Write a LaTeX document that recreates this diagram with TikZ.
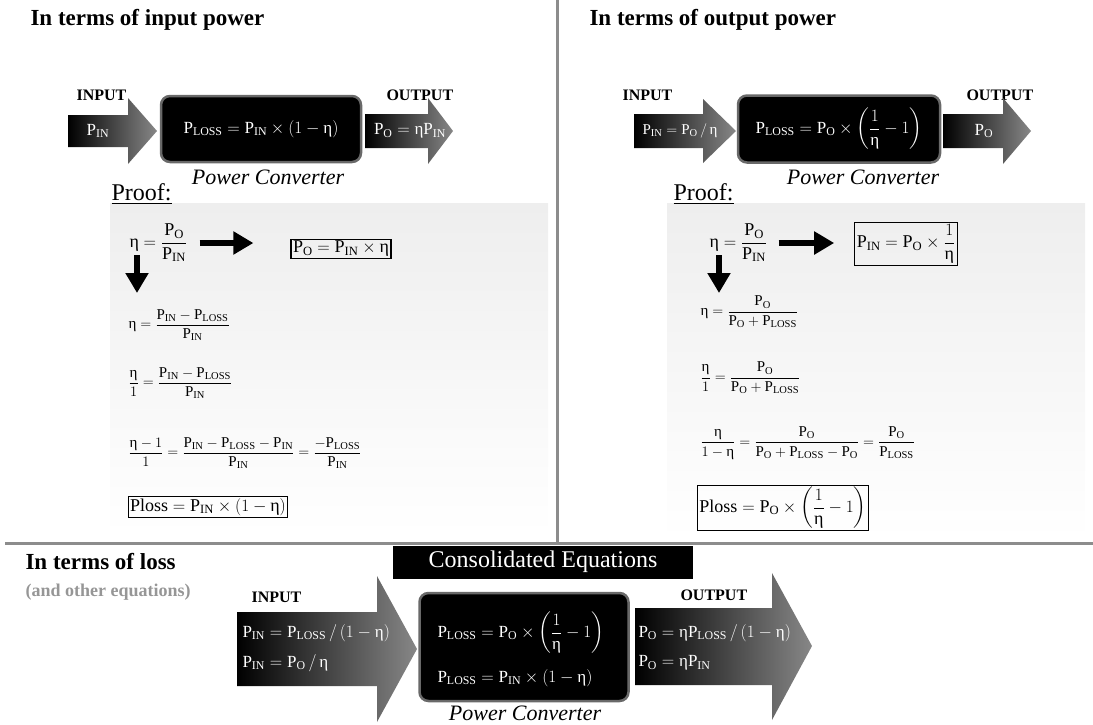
\documentclass[tikz,border=0pt]{standalone}
\usepackage{amsmath}
\usepackage{fontspec}
\setmainfont{Liberation Serif}
\usepackage{tikz}
\usetikzlibrary{arrows.meta, positioning}
\definecolor{mygray}{RGB}{140,140,140}
\definecolor{myedge}{RGB}{105,105,105}
\definecolor{myfade}{RGB}{135,135,135}
\definecolor{mynote}{RGB}{150,150,150}
\definecolor{mypaper}{RGB}{238,238,238}
\newcommand{\eff}{\text{η}}
\newcommand{\Pin}{\mathrm{P}_{\mathrm{IN}}}
\newcommand{\Po}{\mathrm{P}_{\mathrm{O}}}
\newcommand{\Ploss}{\mathrm{P}_{\mathrm{LOSS}}}
\tikzset{
  heading/.style={anchor=base west,font=\fontsize{23}{27}\selectfont\bfseries},
  subheading/.style={anchor=base west,font=\fontsize{18}{21}\selectfont\bfseries,color=mynote},
  portlabel/.style={anchor=base west,font=\fontsize{16}{19}\selectfont\bfseries},
  convbox/.style={rectangle,draw=myedge,fill=black,line width=2.5pt,rounded corners=9pt,
    text=white,font=\fontsize{17}{20}\selectfont},
  banner/.style={rectangle,fill=black,text=white,minimum width=300pt,minimum height=33pt,
    font=\fontsize{24}{28}\selectfont},
  caption/.style={anchor=base,font=\fontsize{22}{26}\selectfont\itshape},
  prooflabel/.style={anchor=base west,font=\fontsize{24}{28}\selectfont},
  wtext/.style={text=white,font=\fontsize{17}{20}\selectfont},
  eqbig/.style={anchor=west,font=\fontsize{18}{22}\selectfont},
  eqsmall/.style={anchor=west,font=\fontsize{15}{18}\selectfont},
  result/.style={draw=black,line width=1.2pt,inner sep=2pt,font=\fontsize{18}{22}\selectfont},
  proofarrow/.style={-{Triangle[length=20pt,width=22pt]},line width=6pt},
  divider/.style={color=mygray,line width=3pt},
  flowarrow/.style={left color=black,right color=myfade},
  paper/.style={top color=mypaper,middle color=mypaper!70!white,bottom color=white}
}

\begin{document}
\begin{tikzpicture}[x=1pt,y=-1pt]
  \useasboundingbox (0,0) rectangle (1093,724);

  % ── Frame lines ──────────────────────────────────────────────────────────
  \draw[divider] (557,0) -- (557,543);
  \draw[divider] (5,543) -- (1093,543);

  % ── Headings ─────────────────────────────────────────────────────────────
  \node[heading] (ttlIn) at (27,25) {In terms of input power};
  \node[heading] (ttlOut) at (586,25) {In terms of output power};
  \node[heading] (ttlLoss) at (22,569) {In terms of loss};
  \node[subheading] (ttlNote) at (22,596) {(and other equations)};

  % ── Input power: converter ──────────────────────────────────────────────
  \node[portlabel] (inLblL) at (73,100) {INPUT};
  \node[portlabel] (outLblL) at (383,100) {OUTPUT};
  \shade[flowarrow] (68,115) -- (128,115) -- (128,98) -- (157,131)
                    -- (128,164) -- (128,147) -- (68,147) -- cycle;
  \shade[flowarrow] (365,114) -- (428,114) -- (428,98) -- (453,131)
                    -- (428,164) -- (428,148) -- (365,148) -- cycle;
  \node[convbox, minimum width=200pt, minimum height=66pt] (convL) at (261,129)
    {$\Ploss = \Pin \times (1-\eff)$};
  \node[wtext] (pinL) at (98,131) {$\Pin$};
  \node[wtext] (poL) at (410,131) {$\Po = \eff\Pin$};
  \node[caption] (capL) at (268,184) {Power Converter};

  % ── Input power: proof ──────────────────────────────────────────────────
  \shade[paper] (110,203) rectangle (548,535);
  \node[prooflabel] (proofL) at (108,200) {\underline{Proof:}};
  \node[eqbig] (etaL) at (126,243) {$\eff = \dfrac{\Po}{\Pin}$};
  \node[result] (resL) at (341,249) {$\Po = \Pin \times \eff$};
  \node[eqsmall] (eqL2) at (125,325) {$\eff = \dfrac{\Pin - \Ploss}{\Pin}$};
  \node[eqsmall] (eqL3) at (125,383) {$\dfrac{\eff}{1} = \dfrac{\Pin - \Ploss}{\Pin}$};
  \node[eqsmall] (eqL4) at (125,453)
    {$\dfrac{\eff-1}{1} = \dfrac{\Pin - \Ploss - \Pin}{\Pin} = \dfrac{-\Ploss}{\Pin}$};
  \node[result] (resL2) at (208,507) {$\text{Ploss} = \Pin \times \left(1-\eff\right)$};
  \coordinate (dnL) at (137,293);
  \draw[proofarrow] ([xshift=9pt]etaL.east) -- ([xshift=-37pt,yshift=6pt]resL.west);
  \draw[proofarrow] ([xshift=11pt,yshift=-12pt]etaL.west) -- (dnL);

  % ── Output power: converter ─────────────────────────────────────────────
  \node[portlabel] (inLblR) at (619,100) {INPUT};
  \node[portlabel] (outLblR) at (963,100) {OUTPUT};
  \shade[flowarrow] (634,114) -- (703,114) -- (703,99) -- (736,131)
                    -- (703,163) -- (703,148) -- (634,148) -- cycle;
  \shade[flowarrow] (943,114) -- (1003,114) -- (1003,98) -- (1031,131)
                    -- (1003,164) -- (1003,148) -- (943,148) -- cycle;
  \node[convbox, minimum width=202pt, minimum height=67pt] (convR) at (839,129)
    {$\Ploss = \Po \times \left(\dfrac{1}{\eff}-1\right)$};
  \node[wtext, font=\fontsize{15}{18}\selectfont] (pinR) at (680,131) {$\Pin = \Po \,/\, \eff$};
  \node[wtext] (poR) at (984,131) {$\Po$};
  \node[caption] (capR) at (863,184) {Power Converter};

  % ── Output power: proof ─────────────────────────────────────────────────
  \shade[paper] (667,203) rectangle (1085,540);
  \node[prooflabel] (proofR) at (670,200) {\underline{Proof:}};
  \node[eqbig] (etaR) at (706,243) {$\eff = \dfrac{\Po}{\Pin}$};
  \node[result] (resR) at (906,244) {$\Pin = \Po \times \dfrac{1}{\eff}$};
  \node[eqsmall] (eqR2) at (697,312) {$\eff = \dfrac{\Po}{\Po + \Ploss}$};
  \node[eqsmall] (eqR3) at (697,378) {$\dfrac{\eff}{1} = \dfrac{\Po}{\Po + \Ploss}$};
  \node[eqsmall] (eqR4) at (697,443)
    {$\dfrac{\eff}{1-\eff} = \dfrac{\Po}{\Po + \Ploss - \Po} = \dfrac{\Po}{\Ploss}$};
  \node[result] (resR2) at (783,508)
    {$\text{Ploss} = \Po \times \left(\dfrac{1}{\eff}-1\right)$};
  \coordinate (dnR) at (719,293);
  \draw[proofarrow] ([xshift=8pt]etaR.east) -- ([xshift=-20pt,yshift=1pt]resR.west);
  \draw[proofarrow] ([xshift=13pt,yshift=-12pt]etaR.west) -- (dnR);

  % ── Loss: consolidated converter ────────────────────────────────────────
  \node[banner] (consol) at (543,562) {Consolidated Equations};
  \node[portlabel] (inLblB) at (248,602) {INPUT};
  \node[portlabel] (outLblB) at (677,600) {OUTPUT};
  \shade[flowarrow] (237,612) -- (377,612) -- (377,576) -- (417,649)
                    -- (377,722) -- (377,686) -- (237,686) -- cycle;
  \shade[flowarrow] (635,608) -- (772,608) -- (772,573) -- (812,646)
                    -- (772,720) -- (772,685) -- (635,685) -- cycle;
  \node[convbox, minimum width=209pt, minimum height=108pt] (convB) at (524,647) {};
  \node[wtext, anchor=west] (lossB1) at (434,633)
    {$\Ploss = \Po \times \left(\dfrac{1}{\eff}-1\right)$};
  \node[wtext, anchor=west] (lossB2) at (434,678) {$\Ploss = \Pin \times (1-\eff)$};
  \node[wtext, anchor=west] (pinB1) at (239,633) {$\Pin = \Ploss \,/\, (1-\eff)$};
  \node[wtext, anchor=west] (pinB2) at (239,663) {$\Pin = \Po \,/\, \eff$};
  \node[wtext, anchor=west] (poB1) at (635,633) {$\Po = \eff\Ploss \,/\, (1-\eff)$};
  \node[wtext, anchor=west] (poB2) at (635,663) {$\Po = \eff\Pin$};
  \node[caption] (capB) at (525,720) {Power Converter};
\end{tikzpicture}
\end{document}
